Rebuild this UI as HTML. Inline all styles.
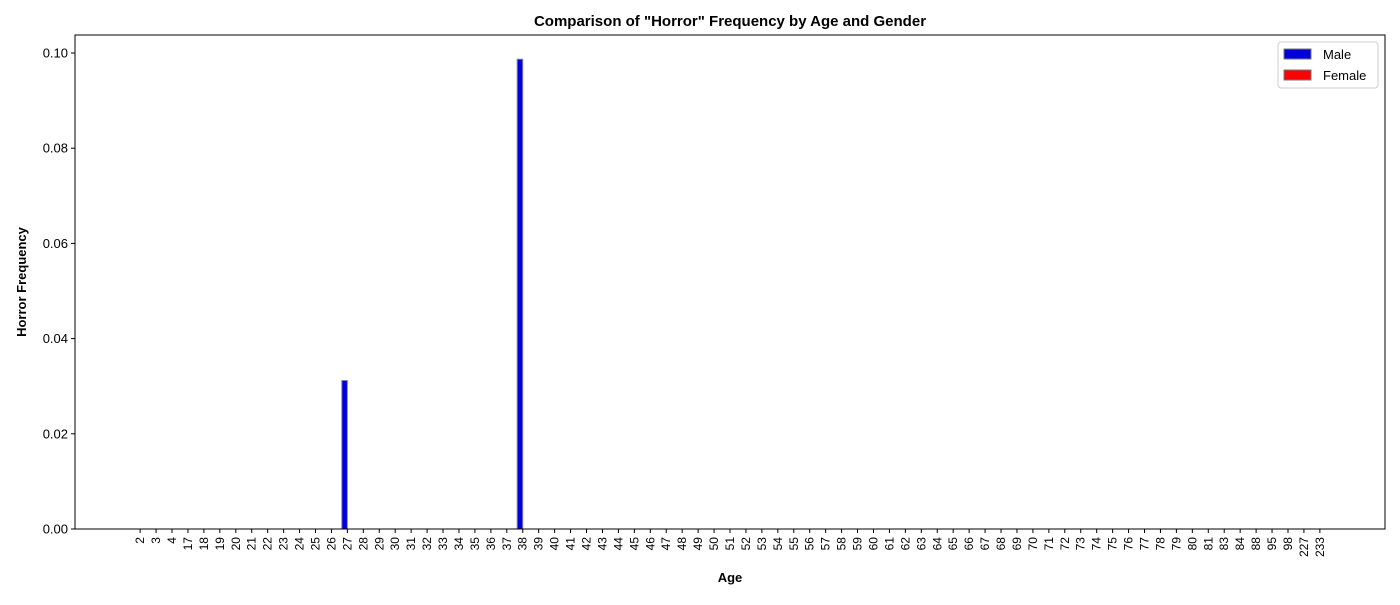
<!DOCTYPE html>
<html><head><meta charset="utf-8"><style>
body{margin:0;background:#fff;font-family:"Liberation Sans","DejaVu Sans",sans-serif;}
</style></head><body>
<svg id="chart" width="1400" height="600" xmlns="http://www.w3.org/2000/svg" font-family="Liberation Sans, DejaVu Sans, sans-serif"></svg>
<script>
const categories=[2,3,4,17,18,19,20,21,22,23,24,25,26,27,28,29,30,31,32,33,34,35,36,37,38,39,40,41,42,43,44,45,46,47,48,49,50,51,52,53,54,55,56,57,58,59,60,61,62,63,64,65,66,67,68,69,70,71,72,73,74,75,76,77,78,79,80,81,83,84,88,95,98,227,233];
const maleValues=categories.map(c=>c===27?0.0312:(c===38?0.0987:0));
const femaleValues=categories.map(()=>0);
const yTicks=[0,0.02,0.04,0.06,0.08,0.10];
const yTickLabels=["0.00","0.02","0.04","0.06","0.08","0.10"];

const svg=document.getElementById('chart');
const NS='http://www.w3.org/2000/svg';
const L=75,R=1385,T=35,B=529;
const barW=0.35;
const xmin=-barW-0.05*(categories.length-1+2*barW), xmax=categories.length-1+barW+0.05*(categories.length-1+2*barW);
const xs=i=>L+(i-xmin)/(xmax-xmin)*(R-L);
const ys=v=>B-v/0.1*476;
function mk(tag,attrs,text){const e=document.createElementNS(NS,tag);for(const k in attrs)e.setAttribute(k,attrs[k]);if(text!==undefined)e.textContent=text;svg.appendChild(e);return e;}

categories.forEach((c,i)=>{
  const x0=xs(i-barW),x1=xs(i);
  const h=B-ys(maleValues[i]);
  if(h>0){const r=mk('rect',{x:x0,y:ys(maleValues[i]),width:x1-x0,height:h,fill:'#0000dd',stroke:'#8888aa','stroke-width':1});
  
  }
  const fh=B-ys(femaleValues[i]);
  if(fh>0){const r=mk('rect',{x:xs(i),y:ys(femaleValues[i]),width:xs(i+barW)-xs(i),height:fh,fill:'#ff0000',stroke:'#888','stroke-width':1});
  
  }
  const tx=xs(i);
  const t=mk('line',{x1:tx,x2:tx,y1:B,y2:B+4,stroke:'#000','stroke-width':1});
  
  
  const lb=mk('text',{x:tx+4,y:B+8,'font-size':12,'text-anchor':'end',transform:`rotate(-90 ${tx+4} ${B+8})`},String(c));
  
  
});
yTicks.forEach((v,i)=>{
  const y=ys(v);
  const t=mk('line',{x1:L-4,x2:L,y1:y,y2:y,stroke:'#000'});
  
  
  const lb=mk('text',{x:L-7,y:y+4.5,'font-size':13,'text-anchor':'end'},yTickLabels[i]);
  
  
});
const frame=mk('rect',{x:L,y:T,width:R-L,height:B-T,fill:'none',stroke:'#000','stroke-width':1});


const title=mk('text',{x:730,y:26,'font-size':15,'font-weight':'bold','text-anchor':'middle'},'Comparison of "Horror" Frequency by Age and Gender');


const xt=mk('text',{x:730,y:582,'font-size':13,'font-weight':'bold','text-anchor':'middle'},'Age');


const yt=mk('text',{x:26,y:282,'font-size':13,'font-weight':'bold','text-anchor':'middle',transform:'rotate(-90 26 282)'},'Horror Frequency');


const lg=mk('rect',{x:1278,y:42,width:100,height:46,rx:3,fill:'#fff',stroke:'#ccc'});


const lm=mk('rect',{x:1284,y:49,width:27,height:10,fill:'#0000dd',stroke:'#777'});


const lmt=mk('text',{x:1323,y:59,'font-size':13},'Male');


const lf=mk('rect',{x:1284,y:70,width:27,height:10,fill:'#ff0000',stroke:'#777'});


const lft=mk('text',{x:1323,y:80,'font-size':13},'Female');


</script>
</body></html>
